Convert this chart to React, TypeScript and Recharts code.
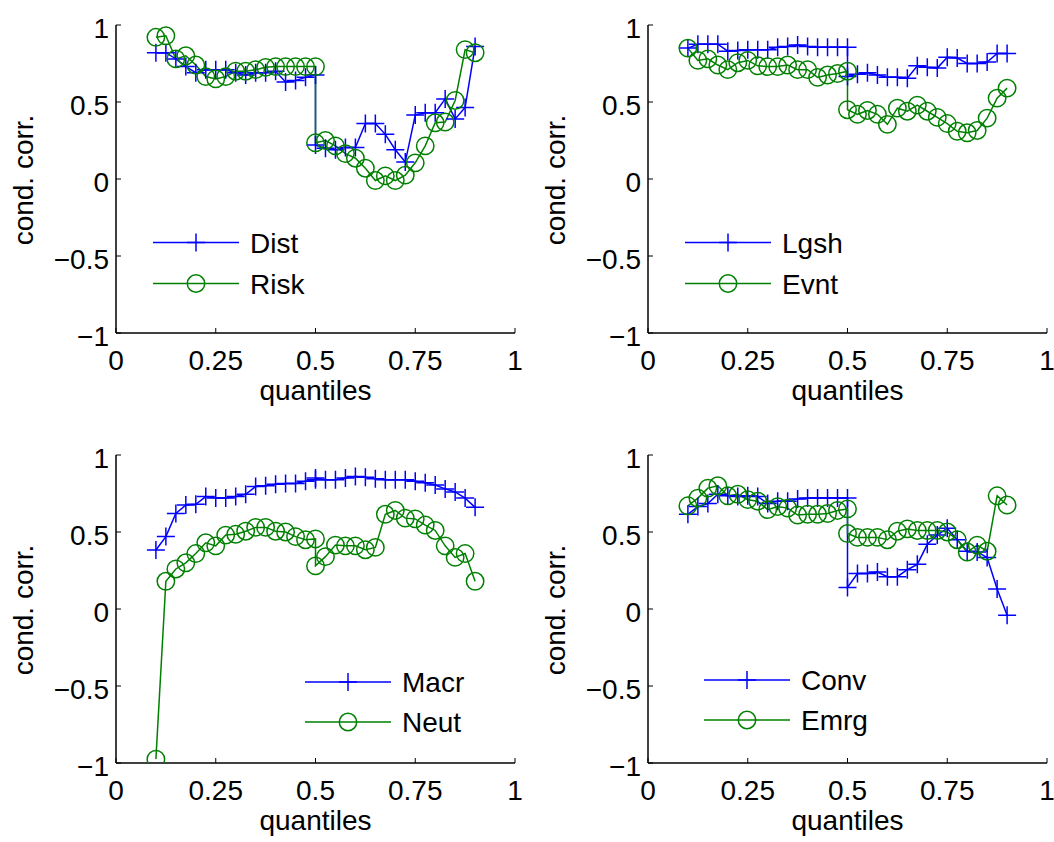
import { LineChart, Line, XAxis, YAxis, Legend } from 'recharts';

// quantile grid: lower half 0.1..0.5, upper half 0.5..0.9 (0.5 appears twice)
const quantiles = [
    0.1, 0.125, 0.15, 0.175, 0.2, 0.225, 0.25, 0.275, 0.3, 0.325, 0.35, 0.375, 0.4, 0.425, 0.45, 0.475, 0.5,
    0.5, 0.525, 0.55, 0.575, 0.6, 0.625, 0.65, 0.675, 0.7, 0.725, 0.75, 0.775, 0.8, 0.825, 0.85, 0.875, 0.9,
];
const xTicks = [0, 0.25, 0.5, 0.75, 1];
const yTicks = [-1, -0.5, 0, 0.5, 1];

const dist = [0.82, 0.82, 0.78, 0.73, 0.69, 0.71, 0.71, 0.71, 0.69, 0.675, 0.69, 0.69, 0.7, 0.63, 0.64, 0.66, 0.675,
    0.22, 0.2, 0.19, 0.205, 0.205, 0.36, 0.36, 0.29, 0.19, 0.11, 0.415, 0.43, 0.43, 0.52, 0.39, 0.465, 0.86];
const risk = [0.92, 0.93, 0.78, 0.8, 0.74, 0.665, 0.65, 0.665, 0.7, 0.7, 0.71, 0.725, 0.73, 0.73, 0.73, 0.73, 0.73,
    0.235, 0.25, 0.215, 0.165, 0.135, 0.07, -0.01, 0.02, -0.01, 0.025, 0.105, 0.215, 0.365, 0.37, 0.51, 0.84, 0.82];
const lgsh = [0.85, 0.875, 0.875, 0.875, 0.83, 0.835, 0.84, 0.84, 0.84, 0.855, 0.86, 0.87, 0.86, 0.855, 0.855, 0.855, 0.855,
    0.665, 0.68, 0.69, 0.675, 0.66, 0.66, 0.655, 0.735, 0.725, 0.72, 0.79, 0.785, 0.75, 0.75, 0.76, 0.815, 0.815];
const evnt = [0.85, 0.77, 0.78, 0.74, 0.71, 0.755, 0.77, 0.735, 0.73, 0.73, 0.74, 0.71, 0.71, 0.66, 0.675, 0.685, 0.7,
    0.45, 0.42, 0.445, 0.42, 0.355, 0.46, 0.44, 0.48, 0.44, 0.4, 0.36, 0.31, 0.3, 0.315, 0.395, 0.525, 0.59];
const macr = [0.383, 0.47, 0.62, 0.675, 0.68, 0.73, 0.72, 0.72, 0.73, 0.745, 0.795, 0.8, 0.81, 0.815, 0.815, 0.83, 0.84,
    0.85, 0.84, 0.84, 0.85, 0.86, 0.855, 0.845, 0.84, 0.84, 0.84, 0.83, 0.82, 0.805, 0.78, 0.76, 0.72, 0.66];
const neut = [-0.975, 0.18, 0.26, 0.3, 0.36, 0.43, 0.41, 0.48, 0.485, 0.505, 0.53, 0.53, 0.505, 0.5, 0.47, 0.45, 0.455,
    0.28, 0.34, 0.415, 0.41, 0.41, 0.385, 0.4, 0.615, 0.64, 0.59, 0.585, 0.545, 0.51, 0.41, 0.335, 0.36, 0.18];
const conv = [0.615, 0.665, 0.685, 0.745, 0.735, 0.73, 0.735, 0.73, 0.685, 0.7, 0.7, 0.715, 0.72, 0.72, 0.72, 0.72, 0.72,
    0.14, 0.23, 0.23, 0.24, 0.21, 0.21, 0.255, 0.29, 0.42, 0.48, 0.525, 0.45, 0.375, 0.37, 0.335, 0.13, -0.04];
const emrg = [0.67, 0.72, 0.785, 0.8, 0.735, 0.745, 0.71, 0.7, 0.645, 0.665, 0.655, 0.61, 0.615, 0.615, 0.62, 0.64, 0.65,
    0.49, 0.465, 0.465, 0.465, 0.45, 0.505, 0.52, 0.51, 0.51, 0.51, 0.5, 0.45, 0.37, 0.415, 0.375, 0.735, 0.675];

const BLUE = '#0000ff';
const GREEN = '#008000';
const FONT = '"Liberation Sans", Arial, Helvetica, sans-serif';
const SW = 1.5;

const panels = [
    { left: 0, top: 0, height: 421, names: ['Dist', 'Risk'], a: dist, b: risk, lx: 153, ly: 222, row: 41 },
    { left: 532, top: 0, height: 421, names: ['Lgsh', 'Evnt'], a: lgsh, b: evnt, lx: 153, ly: 222, row: 41 },
    { left: 0, top: 430, height: 412, names: ['Macr', 'Neut'], a: macr, b: neut, lx: 305, ly: 232, row: 40 },
    { left: 532, top: 430, height: 412, names: ['Conv', 'Emrg'], a: conv, b: emrg, lx: 172, ly: 230, row: 40 },
];

const fmt = (v: number) => (v < 0 ? '\u2212' + String(-v) : String(v));

const XTick = ({ x, y, payload }: any) => (
    <text x={x} y={y + 37} textAnchor="middle" fontSize={28} fontFamily={FONT} fill="#000">
        {fmt(payload.value)}
    </text>
);

const YTick = ({ x, y, payload }: any) => (
    <text x={x - 7} y={y + 13} textAnchor="end" fontSize={28} fontFamily={FONT} fill="#000">
        {fmt(payload.value)}
    </text>
);

const XLabel = () => (
    <text x={315.5} y={400} textAnchor="middle" fontSize={28} fontFamily={FONT} fill="#000">quantiles</text>
);

const YLabel = () => (
    <text transform="translate(33,180) rotate(-90)" textAnchor="middle" fontSize={28} fontFamily={FONT} fill="#000">
        cond. corr.
    </text>
);

const PlusDot = (props: any) => {
    const { cx, cy, index } = props;
    if (cx == null || cy == null) return <g key={index} />;
    return (
        <path key={index} d={`M${cx - 9},${cy}H${cx + 9}M${cx},${cy - 9}V${cy + 9}`}
            stroke={BLUE} strokeWidth={SW} fill="none" />
    );
};

const PanelLegend = ({ names, row }: { names: string[]; row: number }) => (
    <svg width={210} height={row * 2} style={{ display: 'block', overflow: 'visible' }}>
        {names.map((n, i) => {
            const cy = row * i + row / 2;
            const c = i === 0 ? BLUE : GREEN;
            return (
                <g key={n}>
                    <line x1={0} x2={86} y1={cy} y2={cy} stroke={c} strokeWidth={SW} />
                    {i === 0
                        ? <path d={`M34,${cy}H52M43,${cy - 9}V${cy + 9}`} stroke={c} strokeWidth={SW} />
                        : <circle cx={43} cy={cy} r={8.7} fill="none" stroke={c} strokeWidth={SW} />}
                    <text x={97} y={cy + 10} fontSize={28} fontFamily={FONT} fill="#000">{n}</text>
                </g>
            );
        })}
    </svg>
);

const axisStyle = { stroke: '#000', strokeWidth: 1.5 };
const tickStyle = { stroke: '#000', strokeWidth: 1 };

function Panel({ p }: { p: (typeof panels)[number] }) {
    const data = quantiles.map((q, i) => ({ q, a: p.a[i], b: p.b[i] }));
    return (
        <div style={{ position: 'absolute', left: p.left, top: p.top }}>
            <LineChart width={527} height={p.height} data={data} margin={{ top: 25, right: 12, bottom: 0, left: 0 }}>
                <XAxis dataKey="q" type="number" domain={[0, 1]} ticks={xTicks} interval={0} allowDataOverflow
                    height={p.height - 25 - 308} tickSize={-5} tickMargin={5} tick={<XTick />}
                    axisLine={axisStyle} tickLine={tickStyle} label={<XLabel />} />
                <XAxis xAxisId="top" orientation="top" dataKey="q" type="number" domain={[0, 1]} ticks={xTicks}
                    interval={0} height={0} tickSize={-5} tick={false} axisLine={axisStyle} tickLine={tickStyle} />
                <YAxis type="number" domain={[-1, 1]} ticks={yTicks} interval={0} allowDataOverflow width={116}
                    tickSize={-5} tickMargin={5} tick={<YTick />} axisLine={axisStyle} tickLine={tickStyle}
                    label={<YLabel />} />
                <YAxis yAxisId="right" orientation="right" type="number" domain={[-1, 1]} ticks={yTicks}
                    interval={0} width={0} tickSize={-5} tick={false} axisLine={axisStyle} tickLine={tickStyle} />
                <Line type="linear" dataKey="a" name={p.names[0]} stroke={BLUE} strokeWidth={SW}
                    dot={PlusDot} activeDot={false} isAnimationActive={false} />
                <Line type="linear" dataKey="b" name={p.names[1]} stroke={GREEN} strokeWidth={SW}
                    dot={{ r: 8.7, fill: 'none', stroke: GREEN, strokeWidth: SW }} activeDot={false}
                    isAnimationActive={false} />
                <Legend layout="vertical" align="center" verticalAlign="middle"
                    wrapperStyle={{ left: p.lx, top: p.ly, width: 'auto', height: 'auto' }}
                    content={() => <PanelLegend names={p.names} row={p.row} />} />
            </LineChart>
        </div>
    );
}

export default function App() {
    return (
        <div style={{ position: 'absolute', left: 0, top: 0, width: 1054, height: 842, overflow: 'hidden', background: '#fff' }}>
            {panels.map(p => <Panel key={p.names[0]} p={p} />)}
        </div>
    );
}
